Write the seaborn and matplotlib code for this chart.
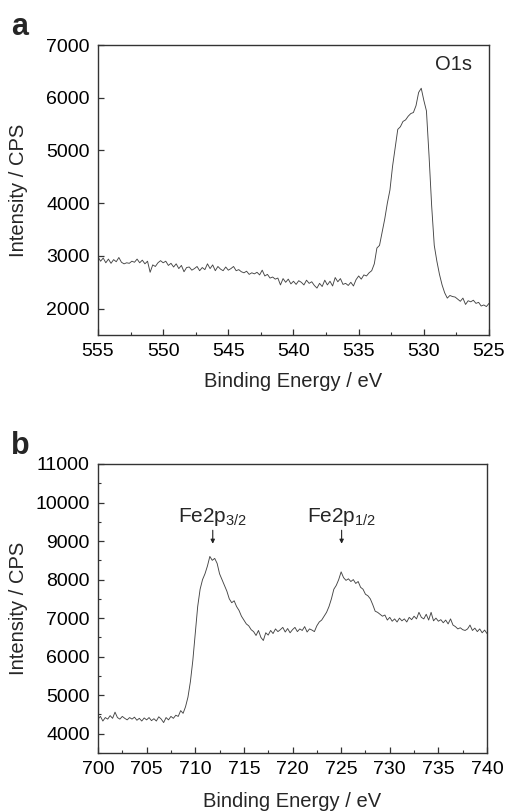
import numpy as np
import pandas as pd
import matplotlib
matplotlib.use("Agg")
import matplotlib.pyplot as plt
from matplotlib.ticker import MultipleLocator
import seaborn as sns

# ---------------- data ----------------
o1s_start, o1s_step = 555.0, -0.2
o1s_intensity = [
    2980, 2900, 2960, 2870, 2940, 2860, 2930, 2890, 2970, 2880,
    2850, 2870, 2860, 2900, 2880, 2940, 2870, 2920, 2850, 2900,
    2690, 2830, 2800, 2870, 2910, 2870, 2900, 2820, 2860, 2790,
    2850, 2760, 2820, 2700, 2780, 2790, 2730, 2760, 2800, 2720,
    2780, 2740, 2850, 2760, 2830, 2720, 2800, 2750, 2720, 2790,
    2730, 2760, 2800, 2720, 2740, 2700, 2680, 2710, 2650, 2680,
    2660, 2690, 2640, 2730, 2620, 2650, 2580, 2600, 2560, 2580,
    2450, 2570, 2500, 2560, 2470, 2520, 2460, 2530, 2500, 2450,
    2540, 2480, 2510, 2440, 2390, 2480, 2420, 2540, 2450, 2520,
    2430, 2590, 2510, 2570, 2460, 2480, 2440, 2500, 2430, 2550,
    2620, 2560, 2640, 2620, 2680, 2720, 2850, 3150, 3200, 3450,
    3700, 4000, 4250, 4700, 5050, 5400, 5450, 5550, 5580, 5650,
    5700, 5720, 5850, 6100, 6180, 5950, 5750, 4900, 3950, 3200,
    2900, 2650, 2450, 2300, 2200, 2250, 2230, 2220, 2180, 2140,
    2200, 2080, 2150, 2130, 2160, 2100, 2120, 2050, 2070, 2040,
    2100,
]

fe_start, fe_step = 700.0, 0.25
fe2p_intensity = [
    4380, 4450, 4330, 4420, 4380, 4470, 4400, 4560, 4420, 4380,
    4450, 4400, 4360, 4420, 4380, 4430, 4350, 4400, 4330, 4410,
    4360, 4420, 4340, 4390, 4330, 4440, 4380, 4290, 4420, 4360,
    4450, 4400, 4480, 4450, 4600, 4530, 4700, 4950, 5350, 5900,
    6600, 7300, 7750, 8000, 8150, 8350, 8600, 8500, 8550, 8420,
    8150, 8000, 7850, 7700, 7500, 7400, 7450, 7300, 7200, 7050,
    6950, 6850, 6800, 6700, 6650, 6550, 6680, 6500, 6420, 6620,
    6560, 6680, 6600, 6720, 6650, 6700, 6760, 6640, 6730, 6620,
    6700, 6760, 6650, 6720, 6680, 6780, 6640, 6720, 6690, 6650,
    6800, 6900, 6950, 7050, 7150, 7300, 7500, 7750, 7850, 8000,
    8200, 8050, 7980, 8020, 7950, 8000, 7900, 7950, 7800, 7750,
    7620, 7580, 7500, 7350, 7180, 7150, 7100, 7050, 7080, 6950,
    7020, 6920, 6980, 6900, 7000, 6930, 6980, 6900, 7020, 6960,
    7050, 6980, 7150, 7020, 6980, 7100, 6950, 7150, 6930, 7000,
    6920, 6960, 6880, 6950, 6850, 6980, 6820, 6780, 6720, 6750,
    6700, 6680, 6720, 6820, 6680, 6740, 6650, 6720, 6620, 6690,
    6600,
]

o1s_energy = o1s_start + o1s_step * np.arange(len(o1s_intensity))
fe_energy = fe_start + fe_step * np.arange(len(fe2p_intensity))

df_o = pd.DataFrame({"energy": o1s_energy, "intensity": o1s_intensity})
df_fe = pd.DataFrame({"energy": fe_energy, "intensity": fe2p_intensity})

peak_labels = ["Fe2p$_{3/2}$", "Fe2p$_{1/2}$"]
peak_pos = [711.8, 725.05]

# ---------------- style ----------------
sns.set_style("ticks")
plt.rcParams["font.family"] = ["Liberation Sans", "DejaVu Sans"]
plt.rcParams["mathtext.fontset"] = "custom"
plt.rcParams["mathtext.rm"] = "Liberation Sans"
plt.rcParams["mathtext.it"] = "Liberation Sans"

fig = plt.figure(figsize=(5.08, 8.11), dpi=100)
ax1 = fig.add_axes([0.1929, 0.5869, 0.9626 - 0.1929, 0.9445 - 0.5869])
ax2 = fig.add_axes([0.1929, 0.0715, 0.9587 - 0.1929, 0.4279 - 0.0715])

line_col = "#454545"
sns.lineplot(data=df_o, x="energy", y="intensity", ax=ax1, color=line_col,
             linewidth=0.65, estimator=None)
sns.lineplot(data=df_fe, x="energy", y="intensity", ax=ax2, color=line_col,
             linewidth=0.65, estimator=None)

fs = 14
lfs = 14.5
for ax in (ax1, ax2):
    for s in ax.spines.values():
        s.set_visible(True)
        s.set_color("#333333")
        s.set_linewidth(1.0)
    ax.tick_params(which="both", direction="in", top=False, right=False,
                   colors="#333333", labelcolor="black", labelsize=fs)
    ax.tick_params(which="major", length=4.5, width=0.9, pad=6)
    ax.tick_params(which="minor", length=2.3, width=0.8)
    ax.set_xlabel("Binding Energy / eV", fontsize=lfs)
    ax.set_ylabel("Intensity / CPS", fontsize=lfs)

ax1.set_xlim(555, 525)
ax1.set_ylim(1500, 7000)
ax1.xaxis.set_major_locator(MultipleLocator(5))
ax1.xaxis.set_minor_locator(MultipleLocator(2.5))
ax1.set_yticks([2000, 3000, 4000, 5000, 6000, 7000])
ax1.xaxis.set_label_coords(0.5, -0.128)
ax1.yaxis.set_label_coords(-0.18, 0.5)
ax1.text(526.3, 6820, "O1s", ha="right", va="top", fontsize=14.5)

ax2.set_xlim(700, 740)
ax2.set_ylim(3500, 11000)
ax2.xaxis.set_major_locator(MultipleLocator(5))
ax2.xaxis.set_minor_locator(MultipleLocator(2.5))
ax2.set_yticks(list(range(4000, 11001, 1000)))
ax2.yaxis.set_minor_locator(MultipleLocator(500))
ax2.xaxis.set_label_coords(0.5, -0.135)
ax2.yaxis.set_label_coords(-0.18, 0.5)

for lab, xp in zip(peak_labels, peak_pos):
    ax2.text(xp, 9500, lab, ha="center", va="baseline", fontsize=15)
    ax2.annotate("", xy=(xp, 8930), xytext=(xp, 9280),
                 arrowprops=dict(arrowstyle="-|>", color="#222222", lw=0.8,
                                 mutation_scale=6, shrinkA=0, shrinkB=0))

fig.text(0.022, 0.985, "a", fontsize=22, fontweight="bold", va="top", ha="left")
fig.text(0.022, 0.468, "b", fontsize=22, fontweight="bold", va="top", ha="left")

fig.savefig("out.png", dpi=100)
